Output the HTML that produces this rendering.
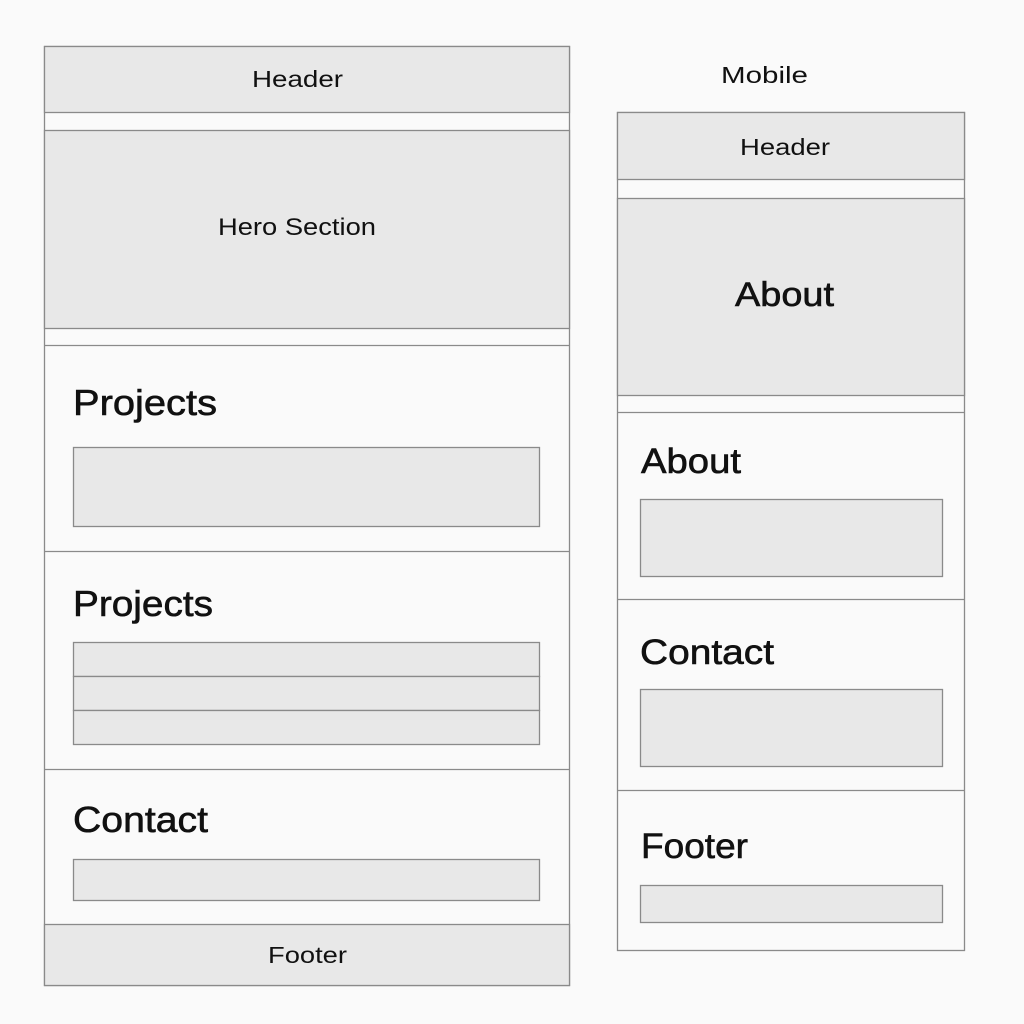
<!DOCTYPE html>
<html><head><style>
html,body{margin:0;padding:0;background:#fafafa;}
svg{display:block}
text{font-family:"Liberation Sans",sans-serif;fill:#111}
.h{stroke:#111;stroke-width:0.6}
</style></head><body>
<svg width="1024" height="1024" viewBox="0 0 1024 1024">
<rect width="1024" height="1024" fill="#fafafa"/>
<g stroke="#8a8a8a" stroke-width="1.3">
<rect x="44.5" y="46.5" width="525" height="939" fill="#fafafa"/>
<rect x="44.5" y="46.5" width="525" height="66" fill="#e8e8e8"/>
<rect x="44.5" y="130.5" width="525" height="198" fill="#e8e8e8"/>
<line x1="44" y1="345.5" x2="570" y2="345.5"/>
<line x1="44" y1="551.5" x2="570" y2="551.5"/>
<line x1="44" y1="769.5" x2="570" y2="769.5"/>
<rect x="44.5" y="924.5" width="525" height="61" fill="#e8e8e8"/>
<rect x="73.5" y="447.5" width="466" height="79" fill="#e8e8e8"/>
<rect x="73.5" y="642.5" width="466" height="34" fill="#e8e8e8"/>
<rect x="73.5" y="676.5" width="466" height="34" fill="#e8e8e8"/>
<rect x="73.5" y="710.5" width="466" height="34" fill="#e8e8e8"/>
<rect x="73.5" y="859.5" width="466" height="41" fill="#e8e8e8"/>
<rect x="617.5" y="112.5" width="347" height="838" fill="#fafafa"/>
<rect x="617.5" y="112.5" width="347" height="67" fill="#e8e8e8"/>
<rect x="617.5" y="198.5" width="347" height="197" fill="#e8e8e8"/>
<line x1="617" y1="412.5" x2="965" y2="412.5"/>
<line x1="617" y1="599.5" x2="965" y2="599.5"/>
<line x1="617" y1="790.5" x2="965" y2="790.5"/>
<rect x="640.5" y="499.5" width="302" height="77" fill="#e8e8e8"/>
<rect x="640.5" y="689.5" width="302" height="77" fill="#e8e8e8"/>
<rect x="640.5" y="885.5" width="302" height="37" fill="#e8e8e8"/>
</g>
<text x="252" y="87" font-size="23" textLength="91" lengthAdjust="spacingAndGlyphs">Header</text>
<text x="218" y="235" font-size="24" textLength="158" lengthAdjust="spacingAndGlyphs">Hero Section</text>
<text class="h" x="73" y="415" font-size="36" textLength="144" lengthAdjust="spacingAndGlyphs">Projects</text>
<text class="h" x="73" y="616" font-size="36" textLength="140" lengthAdjust="spacingAndGlyphs">Projects</text>
<text class="h" x="73" y="832" font-size="36" textLength="135" lengthAdjust="spacingAndGlyphs">Contact</text>
<text x="268" y="963" font-size="23" textLength="79" lengthAdjust="spacingAndGlyphs">Footer</text>
<text x="721" y="83" font-size="23" textLength="87" lengthAdjust="spacingAndGlyphs">Mobile</text>
<text x="740" y="155" font-size="23" textLength="90" lengthAdjust="spacingAndGlyphs">Header</text>
<text class="h" x="735" y="306" font-size="34" textLength="99" lengthAdjust="spacingAndGlyphs">About</text>
<text class="h" x="641" y="473" font-size="35" textLength="100" lengthAdjust="spacingAndGlyphs">About</text>
<text class="h" x="640" y="664" font-size="35" textLength="134" lengthAdjust="spacingAndGlyphs">Contact</text>
<text class="h" x="641" y="858" font-size="35" textLength="107" lengthAdjust="spacingAndGlyphs">Footer</text>
</svg>
</body></html>
